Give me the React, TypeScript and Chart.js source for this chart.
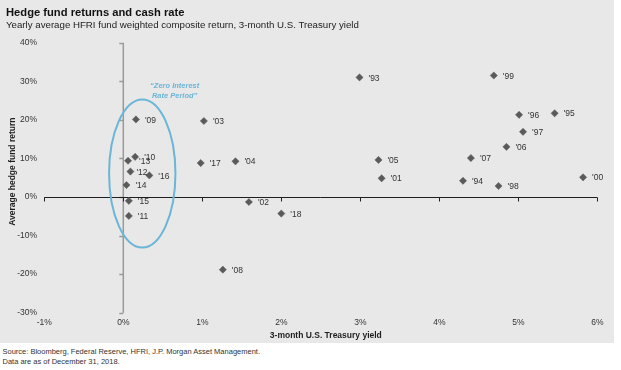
import React, { useEffect, useRef } from 'react';
import { Chart, registerables } from 'chart.js';

Chart.register(...registerables);

// ---- Data ----
const years = ["'93", "'94", "'95", "'96", "'97", "'98", "'99", "'00", "'01", "'02", "'03", "'04", "'05", "'06", "'07", "'08", "'09", "'10", "'11", "'12", "'13", "'14", "'15", "'16", "'17", "'18"];
const treasuryYield = [2.99, 4.30, 5.46, 5.01, 5.06, 4.75, 4.69, 5.82, 3.27, 1.59, 1.02, 1.42, 3.23, 4.85, 4.40, 1.26, 0.16, 0.15, 0.07, 0.09, 0.06, 0.04, 0.07, 0.33, 0.98, 2.00];
const hedgeReturn = [31.0, 4.2, 21.7, 21.3, 16.9, 2.85, 31.5, 5.1, 4.85, -1.3, 19.7, 9.25, 9.6, 13.0, 10.1, -18.85, 20.1, 10.4, -4.9, 6.6, 9.4, 3.1, -1.0, 5.6, 8.8, -4.3];

const xMin = -1;
const xMax = 6;
const yMin = -30;
const yMax = 40;

// "Zero Interest Rate Period" ellipse, in data units
const zirpCenter = { x: 0.24, y: 6.1 };
const zirpRadius = { x: 0.42, y: 19.2 };
const zirpText = ['\u201CZero Interest', 'Rate Period\u201D'];
const zirpTextAnchor = { x: 0.65, y: 28.9 };

const titleText = 'Hedge fund returns and cash rate';
const subtitleText = 'Yearly average HFRI fund weighted composite return, 3-month U.S. Treasury yield';
const xTitle = '3-month U.S. Treasury yield';
const yTitle = 'Average hedge fund return';
const footerLines = [
  'Source: Bloomberg, Federal Reserve, HFRI, J.P. Morgan Asset Management.',
  'Data are as of December 31, 2018.',
];

// ---- Styles ----
const FONT = '"Liberation Sans", Arial, Helvetica, sans-serif';
const BG = '#e8e8e8';
const POINT = '#5a5a5a';
const TEXT = '#333333';
const BLUE = '#6bb5d6';
const labelNudge: Record<string, number> = { "'12": -3, "'13": 2 };

const overlayPlugin = {
  id: 'overlay',
  beforeDatasetsDraw(chart: any) {
    const { ctx, chartArea: a, scales } = chart;
    const x = scales.x;
    const y = scales.y;
    const x0 = x.getPixelForValue(0);
    const y0 = Math.round(y.getPixelForValue(0)) + 0.5;
    ctx.save();
    // vertical axis at x = 0
    ctx.strokeStyle = '#9a9a9a';
    ctx.lineWidth = 1.5;
    ctx.beginPath();
    ctx.moveTo(x0, a.top);
    ctx.lineTo(x0, a.bottom);
    y.ticks.forEach((t: any) => {
      const py = Math.round(y.getPixelForValue(t.value)) + 0.5;
      ctx.moveTo(x0, py);
      ctx.lineTo(x0 - 4, py);
    });
    ctx.stroke();
    // horizontal axis at y = 0
    ctx.strokeStyle = '#1e1e1e';
    ctx.lineWidth = 1;
    ctx.beginPath();
    ctx.moveTo(a.left, y0);
    ctx.lineTo(a.right, y0);
    x.ticks.forEach((t: any) => {
      const px = Math.round(x.getPixelForValue(t.value)) + 0.5;
      ctx.moveTo(px, y0);
      ctx.lineTo(px, y0 + 4);
    });
    ctx.stroke();
    ctx.restore();
  },
  afterDatasetsDraw(chart: any) {
    const { ctx, chartArea: a, scales } = chart;
    const x = scales.x;
    const y = scales.y;
    ctx.save();
    // point labels
    ctx.font = `8.5px ${FONT}`;
    ctx.fillStyle = TEXT;
    ctx.textAlign = 'left';
    ctx.textBaseline = 'middle';
    const meta = chart.getDatasetMeta(0);
    meta.data.forEach((pt: any, i: number) => {
      const lbl = years[i];
      ctx.fillText(lbl, pt.x + 9 + (labelNudge[lbl] || 0), pt.y + 0.8);
    });
    // ellipse
    const cx = x.getPixelForValue(zirpCenter.x);
    const cy = y.getPixelForValue(zirpCenter.y);
    const rx = Math.abs(x.getPixelForValue(zirpCenter.x + zirpRadius.x) - cx);
    const ry = Math.abs(y.getPixelForValue(zirpCenter.y + zirpRadius.y) - cy);
    ctx.strokeStyle = BLUE;
    ctx.lineWidth = 2;
    ctx.beginPath();
    ctx.ellipse(cx, cy, rx, ry, 0, 0, Math.PI * 2);
    ctx.stroke();
    // annotation text
    ctx.fillStyle = BLUE;
    ctx.font = `italic bold 7.5px ${FONT}`;
    ctx.textAlign = 'center';
    const tx = x.getPixelForValue(zirpTextAnchor.x);
    const ty = y.getPixelForValue(zirpTextAnchor.y);
    zirpText.forEach((s, i) => ctx.fillText(s, tx, ty + i * 10));
    // axis titles
    ctx.fillStyle = '#1e1e1e';
    ctx.font = `bold 8.5px ${FONT}`;
    ctx.textAlign = 'center';
    ctx.fillText(xTitle, (a.left + a.right) / 2 + 5, a.bottom + 22.5);
    ctx.translate(12.7, (a.top + a.bottom) / 2 - 6);
    ctx.rotate(-Math.PI / 2);
    ctx.fillText(yTitle, 0, 0);
    ctx.restore();
  },
};

export default function App() {
  const canvasRef = useRef<HTMLCanvasElement | null>(null);

  useEffect(() => {
    if (!canvasRef.current) return;
    const chart = new Chart(canvasRef.current, {
      type: 'scatter',
      data: {
        datasets: [
          {
            label: 'HFRI',
            data: years.map((_, i) => ({ x: treasuryYield[i], y: hedgeReturn[i] })),
            pointStyle: 'rectRot',
            pointRadius: 3.6,
            pointHoverRadius: 3.6,
            backgroundColor: POINT,
            borderColor: POINT,
            borderWidth: 0.5,
          },
        ],
      },
      options: {
        responsive: false,
        animation: false,
        layout: { padding: { top: 42.7, right: 16.7, bottom: 0, left: 0 } },
        plugins: {
          legend: { display: false },
          tooltip: { enabled: false },
          title: { display: false },
        },
        scales: {
          x: {
            type: 'linear',
            min: xMin,
            max: xMax,
            grid: { display: false, drawTicks: false },
            border: { display: false },
            ticks: {
              stepSize: 1,
              autoSkip: false,
              maxRotation: 0,
              padding: 5.3,
              color: TEXT,
              font: { family: FONT, size: 8.5 },
              callback: (v: any) => `${v}%`,
            },
            afterFit: (s: any) => {
              s.height = 30.3;
            },
          },
          y: {
            type: 'linear',
            min: yMin,
            max: yMax,
            grid: { display: false, drawTicks: false },
            border: { display: false },
            ticks: {
              stepSize: 10,
              autoSkip: false,
              padding: 7.3,
              color: TEXT,
              font: { family: FONT, size: 8.5 },
              callback: (v: any) => `${v}%`,
            },
            afterFit: (s: any) => {
              s.width = 44.3;
            },
          },
        },
      },
      plugins: [overlayPlugin],
    });
    return () => chart.destroy();
  }, []);

  return (
    <div style={{ position: 'absolute', left: 0, top: 0, width: 621, height: 370, background: '#ffffff', fontFamily: FONT }}>
      <div style={{ position: 'absolute', left: 0, top: 0, width: 614, height: 343, background: BG }} />
      <canvas ref={canvasRef} width={614} height={343} style={{ position: 'absolute', left: 0, top: 0, width: 614, height: 343 }} />
      <div style={{ position: 'absolute', left: 6, top: 4.7, fontSize: 11.2, lineHeight: '14px', fontWeight: 'bold', color: '#111', whiteSpace: 'nowrap' }}>{titleText}</div>
      <div style={{ position: 'absolute', left: 6, top: 19, fontSize: 9.7, lineHeight: '12px', color: '#222', whiteSpace: 'nowrap' }}>{subtitleText}</div>
      {footerLines.map((s, i) => (
        <div key={i} style={{ position: 'absolute', left: 2.5, top: 347 + i * 10, fontSize: 7.5, lineHeight: '10px', color: TEXT, whiteSpace: 'nowrap' }}>{s}</div>
      ))}
    </div>
  );
}
